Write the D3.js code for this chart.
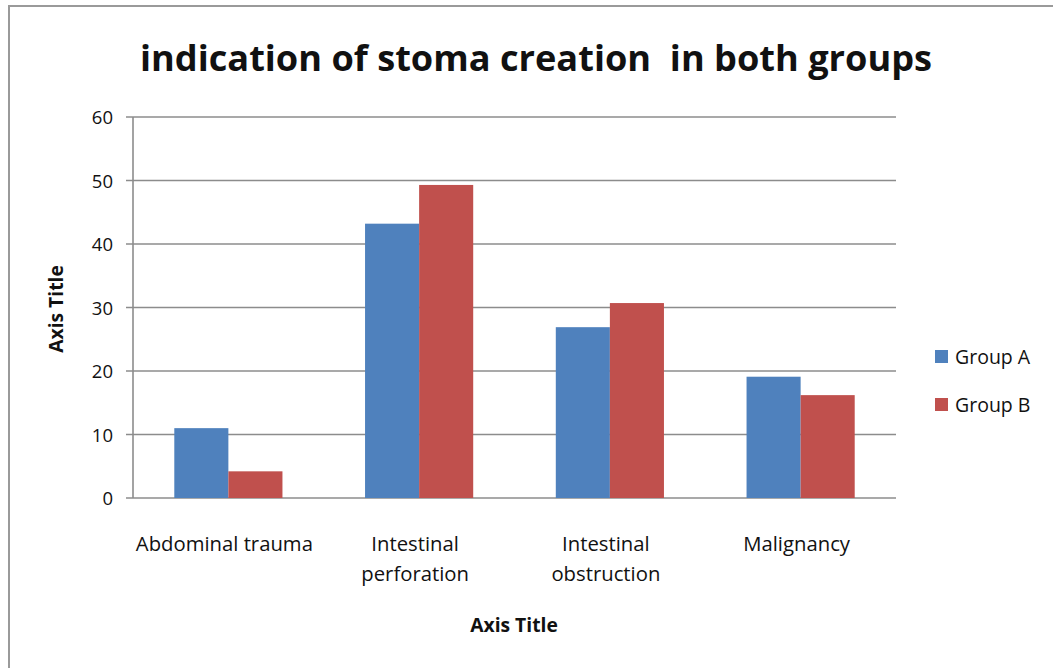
<!DOCTYPE html>
<html>
<head>
<meta charset="utf-8">
<script src="https://cdn.jsdelivr.net/npm/d3@7"></script>
<style>
  html, body { margin: 0; padding: 0; background: #fff; }
  svg { display: block; }
  text { font-family: "Open Sans", "Noto Sans", sans-serif; fill: #111; }
</style>
</head>
<body>
<svg id="chart" width="1053" height="668"></svg>
<script>
const categories = [["Abdominal trauma"], ["Intestinal", "perforation"], ["Intestinal", "obstruction"], ["Malignancy"]];
const seriesNames = ["Group A", "Group B"];
const groupA = [11, 43.2, 26.9, 19.1];
const groupB = [4.2, 49.3, 30.7, 16.2];
const yTicks = [0, 10, 20, 30, 40, 50, 60];
const colors = ["#4F81BD", "#C0504D"];

const svg = d3.select("#chart");
const W = 1053, H = 668;
const plot = { left: 133, right: 896, top: 117, bottom: 498 };

// outer frame
svg.append("path")
  .attr("d", `M9,${H + 2} L9,6 L${W + 2},6`)
  .attr("fill", "none").attr("stroke", "#9a9a9a").attr("stroke-width", 2);

function fit(sel, target) {
  const node = sel.node();
  const fs = parseFloat(sel.attr("font-size"));
  const w = node.getComputedTextLength();
  sel.attr("font-size", (fs * target / w).toFixed(2));
}

// title
const title = svg.append("text")
  .attr("x", 536).attr("y", 71)
  .attr("text-anchor", "middle")
  .attr("font-weight", "bold")
  .attr("font-size", 38)
  .text("indication of stoma creation  in both groups")
  .style("white-space", "pre");
fit(title, 792);

const x = d3.scaleBand()
  .domain(d3.range(categories.length))
  .range([plot.left, plot.right])
  .padding(0);
const inner = d3.scaleBand()
  .domain(seriesNames)
  .range([0, x.bandwidth() * 0.567])
  .padding(0);
const groupOffset = (x.bandwidth() - inner.range()[1]) / 2;

const y = d3.scaleLinear().domain([0, 60]).range([plot.bottom, plot.top]);

// gridlines
svg.append("g")
  .selectAll("line")
  .data(yTicks)
  .join("line")
  .attr("x1", plot.left - 7).attr("x2", plot.right)
  .attr("y1", d => y(d)).attr("y2", d => y(d))
  .attr("stroke", "#8c8c8c").attr("stroke-width", 1.6);

// y axis line
svg.append("line")
  .attr("x1", plot.left).attr("x2", plot.left)
  .attr("y1", plot.top).attr("y2", plot.bottom)
  .attr("stroke", "#8c8c8c").attr("stroke-width", 1.6);

// y tick labels
svg.append("g")
  .selectAll("text")
  .data(yTicks)
  .join("text")
  .attr("x", plot.left - 20).attr("y", d => y(d) + 7)
  .attr("text-anchor", "end")
  .attr("font-size", 18.5)
  .attr("fill", "#1a1a1a")
  .text(d => d);

// bars
const data = [groupA, groupB];
seriesNames.forEach((s, si) => {
  svg.append("g")
    .selectAll("rect")
    .data(data[si])
    .join("rect")
    .attr("x", (d, i) => x(i) + groupOffset + inner(s))
    .attr("width", inner.bandwidth())
    .attr("y", d => y(d))
    .attr("height", d => y(0) - y(d))
    .attr("fill", colors[si]);
});

// category labels
const cat = svg.append("g");
categories.forEach((lines, i) => {
  const cx = x(i) + x.bandwidth() / 2 - 4;
  const t = cat.append("text")
    .attr("x", cx)
    .attr("y", 551)
    .attr("text-anchor", "middle")
    .attr("font-size", 20.3)
    .attr("fill", "#1a1a1a");
  lines.forEach((ln, li) => {
    t.append("tspan")
      .attr("x", cx)
      .attr("dy", li === 0 ? 0 : 30)
      .text(ln);
  });
});

// axis titles
svg.append("text")
  .attr("x", 514).attr("y", 632)
  .attr("text-anchor", "middle")
  .attr("font-weight", "bold")
  .attr("font-size", 19.3)
  .text("Axis Title");

svg.append("text")
  .attr("transform", "translate(63,309) rotate(-90)")
  .attr("text-anchor", "middle")
  .attr("font-weight", "bold")
  .attr("font-size", 19.3)
  .text("Axis Title");

// legend
const leg = svg.append("g");
seriesNames.forEach((s, si) => {
  const ly = 350 + si * 48;
  leg.append("rect")
    .attr("x", 935).attr("y", ly)
    .attr("width", 13).attr("height", 13)
    .attr("fill", colors[si]);
  leg.append("text")
    .attr("x", 955).attr("y", ly + 13.5)
    .attr("font-size", 19.5)
    .attr("fill", "#1a1a1a")
    .text(s);
});
</script>
</body>
</html>
